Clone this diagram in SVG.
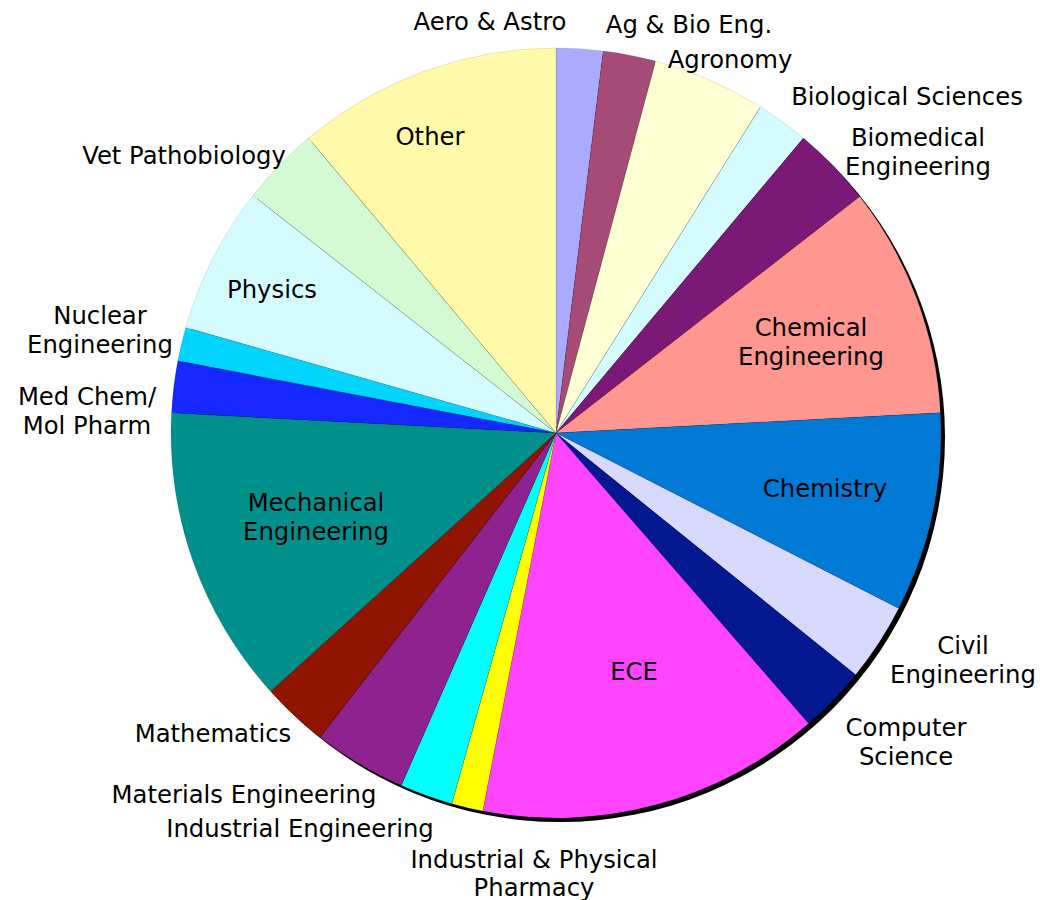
<svg xmlns="http://www.w3.org/2000/svg" width="1052" height="900" viewBox="0 0 1052 900">
<style>
.s{stroke:#000;stroke-opacity:0.2;stroke-width:0.5;stroke-linejoin:round}
text{font-family:"DejaVu Sans",Verdana,"Liberation Sans",sans-serif;font-size:24.3px;fill:#000;text-anchor:middle}
</style>
<rect width="1052" height="900" fill="#fff"/>
<g id="shadow"><circle cx="560" cy="437" r="385" fill="#000"/></g>
<g id="slices">
<g id="aero"><path class="s" fill="#aaaaff" d="M556,433 L556,48 A385,385 0 0 1 603.25,50.91 Z"/></g>
<g id="agbio"><path class="s" fill="#a64a78" d="M556,433 L603.25,50.91 A385,385 0 0 1 655.65,61.12 Z"/></g>
<g id="agronomy"><path class="s" fill="#ffffd4" d="M556,433 L655.65,61.12 A385,385 0 0 1 760.59,106.86 Z"/></g>
<g id="biosci"><path class="s" fill="#d4fcff" d="M556,433 L760.59,106.86 A385,385 0 0 1 803.47,138.07 Z"/></g>
<g id="biomed"><path class="s" fill="#7a1a76" d="M556,433 L803.47,138.07 A385,385 0 0 1 859.8,196.5 Z"/></g>
<g id="cheme"><path class="s" fill="#ff9690" d="M556,433 L859.8,196.5 A385,385 0 0 1 940.47,412.85 Z"/></g>
<g id="chemistry"><path class="s" fill="#007ad4" d="M556,433 L940.47,412.85 A385,385 0 0 1 898.73,608.38 Z"/></g>
<g id="civil"><path class="s" fill="#d6d8fc" d="M556,433 L898.73,608.38 A385,385 0 0 1 855.62,674.76 Z"/></g>
<g id="cs"><path class="s" fill="#041892" d="M556,433 L855.62,674.76 A385,385 0 0 1 808.58,723.56 Z"/></g>
<g id="ece"><path class="s" fill="#ff44ff" d="M556,433 L808.58,723.56 A385,385 0 0 1 482.8,810.98 Z"/></g>
<g id="indphys"><path class="s" fill="#ffff00" d="M556,433 L482.8,810.98 A385,385 0 0 1 451.82,803.64 Z"/></g>
<g id="indeng"><path class="s" fill="#00ffff" d="M556,433 L451.82,803.64 A385,385 0 0 1 401.25,785.53 Z"/></g>
<g id="materials"><path class="s" fill="#8e228e" d="M556,433 L401.25,785.53 A385,385 0 0 1 320.03,737.21 Z"/></g>
<g id="math"><path class="s" fill="#901400" d="M556,433 L320.03,737.21 A385,385 0 0 1 270.64,691.45 Z"/></g>
<g id="meche"><path class="s" fill="#00908c" d="M556,433 L270.64,691.45 A385,385 0 0 1 171.53,412.85 Z"/></g>
<g id="medchem"><path class="s" fill="#1428ff" d="M556,433 L171.53,412.85 A385,385 0 0 1 177.82,360.86 Z"/></g>
<g id="nuclear"><path class="s" fill="#00d4ff" d="M556,433 L177.82,360.86 A385,385 0 0 1 185.73,327.53 Z"/></g>
<g id="physics"><path class="s" fill="#d4fcff" d="M556,433 L185.73,327.53 A385,385 0 0 1 253.03,195.44 Z"/></g>
<g id="vet"><path class="s" fill="#d4fad4" d="M556,433 L253.03,195.44 A385,385 0 0 1 308.53,138.07 Z"/></g>
<g id="other"><path class="s" fill="#fffaaa" d="M556,433 L308.53,138.07 A385,385 0 0 1 556,48 Z"/></g>
</g>
<g id="labels">
<text x="490" y="30">Aero &amp; Astro</text>
<text x="689" y="33">Ag &amp; Bio Eng.</text>
<text x="730" y="68">Agronomy</text>
<text x="907" y="105">Biological Sciences</text>
<text x="918" y="146">Biomedical</text>
<text x="918" y="175">Engineering</text>
<text x="430" y="145">Other</text>
<text x="184" y="164">Vet Pathobiology</text>
<text x="272" y="298">Physics</text>
<text x="100" y="324">Nuclear</text>
<text x="100" y="353">Engineering</text>
<text x="87" y="405">Med Chem/</text>
<text x="87" y="434">Mol Pharm</text>
<text x="316" y="511">Mechanical</text>
<text x="316" y="540">Engineering</text>
<text x="811" y="336">Chemical</text>
<text x="811" y="365">Engineering</text>
<text x="825" y="497">Chemistry</text>
<text x="963" y="654">Civil</text>
<text x="963" y="683">Engineering</text>
<text x="906" y="736">Computer</text>
<text x="906" y="765">Science</text>
<text x="634" y="680">ECE</text>
<text x="213" y="742">Mathematics</text>
<text x="244" y="803">Materials Engineering</text>
<text x="300" y="837">Industrial Engineering</text>
<text x="534" y="868">Industrial &amp; Physical</text>
<text x="534" y="896">Pharmacy</text>
</g>
</svg>
